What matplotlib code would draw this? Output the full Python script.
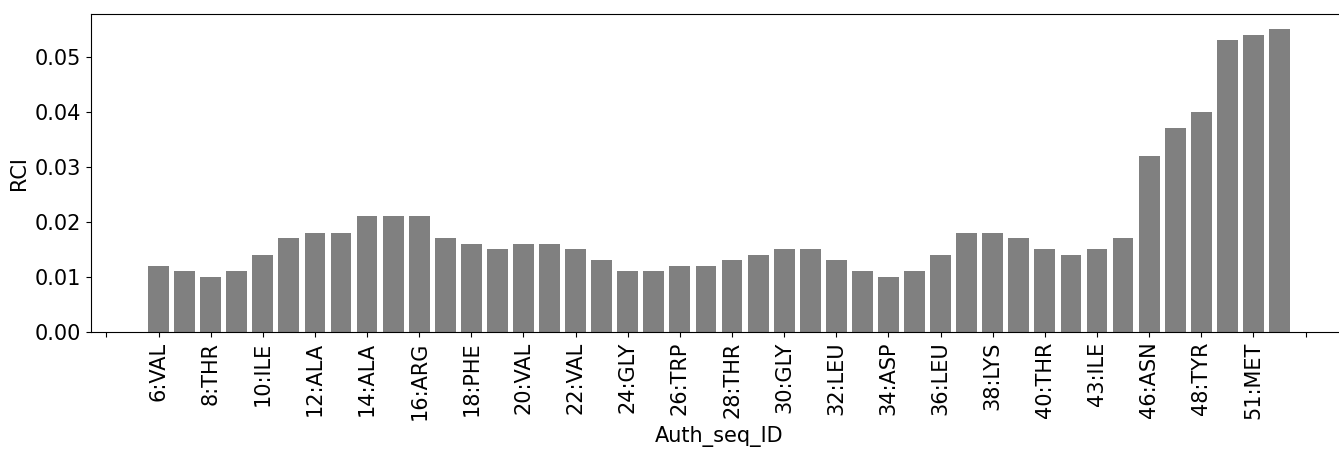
import matplotlib
matplotlib.use("Agg")
import matplotlib.pyplot as plt
import numpy as np

# RCI per residue; only every other residue is labelled on the axis
rci = [0.012, 0.011, 0.010, 0.011, 0.014, 0.017, 0.018, 0.018, 0.021, 0.021,
       0.021, 0.017, 0.016, 0.015, 0.016, 0.016, 0.015, 0.013, 0.011, 0.011,
       0.012, 0.012, 0.013, 0.014, 0.015, 0.015, 0.013, 0.011, 0.010, 0.011,
       0.014, 0.018, 0.018, 0.017, 0.015, 0.014, 0.015, 0.017, 0.032, 0.037,
       0.040, 0.053, 0.054, 0.055]
tick_labels = ["", "6:VAL", "8:THR", "10:ILE", "12:ALA", "14:ALA", "16:ARG", "18:PHE",
               "20:VAL", "22:VAL", "24:GLY", "26:TRP", "28:THR", "30:GLY",
               "32:LEU", "34:ASP", "36:LEU", "38:LYS", "40:THR", "43:ILE",
               "46:ASN", "48:TYR", "51:MET", ""]

fig = plt.figure(figsize=(13.39, 4.49), dpi=100)
ax = fig.add_axes([91/1339, 117/449, 1256/1339, 318/449])
x = np.arange(len(rci))
ax.bar(x, rci, width=0.8, color="gray")
ax.set_xticks(np.arange(-2, 2*len(tick_labels)-2, 2))
ax.set_xticklabels(tick_labels, rotation=90)
ax.set_xlim(-2.59, 45.59)
ax.set_ylim(0, 0.05775)
ax.set_yticks([0, 0.01, 0.02, 0.03, 0.04, 0.05])
ax.set_yticklabels(["0.00", "0.01", "0.02", "0.03", "0.04", "0.05"])
ax.tick_params(labelsize=15)
ax.set_xlabel("Auth_seq_ID", fontsize=15)
ax.set_ylabel("RCI", fontsize=15)
fig.savefig("out.png", dpi=100)
